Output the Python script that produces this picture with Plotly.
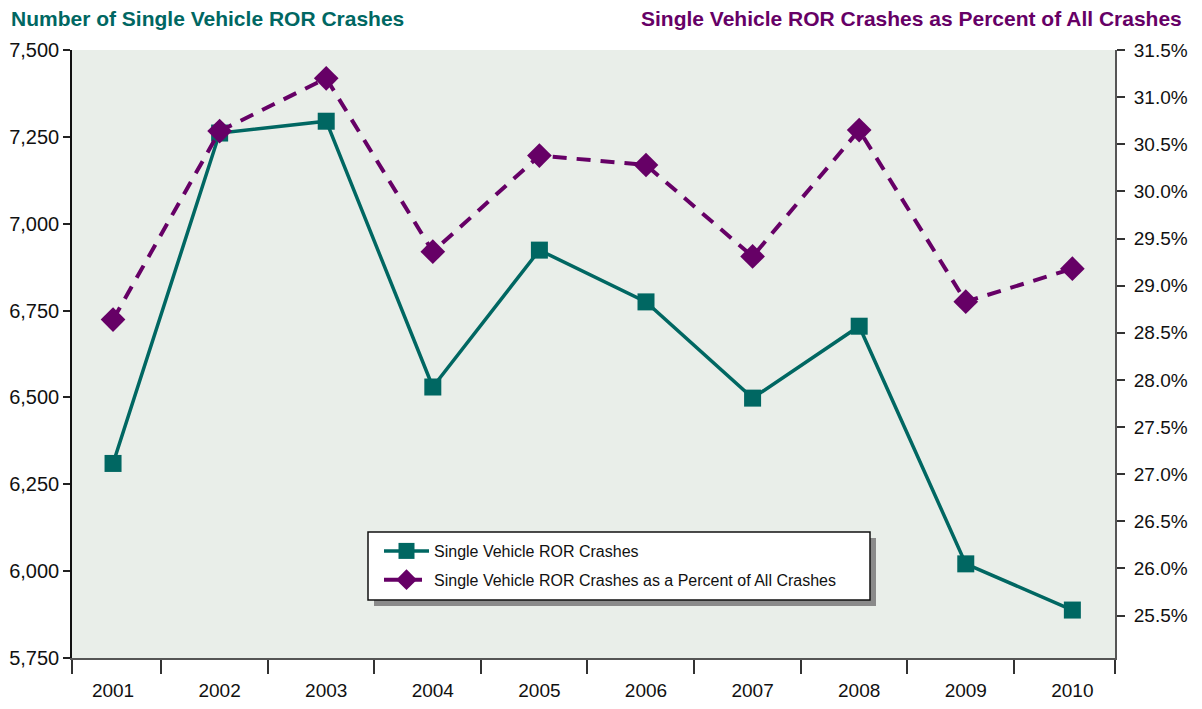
import plotly.graph_objects as go

years = [2001, 2002, 2003, 2004, 2005, 2006, 2007, 2008, 2009, 2010]
year_labels = [str(y) for y in years]
ror_crashes = [6310, 7261, 7295, 6530, 6924, 6775, 6498, 6705, 6021, 5888]
ror_percent = [28.64, 30.64, 31.20, 29.36, 30.38, 30.28, 29.31, 30.65, 28.83, 29.18]
left_ticks = [5750, 6000, 6250, 6500, 6750, 7000, 7250, 7500]
right_ticks = [25.5, 26.0, 26.5, 27.0, 27.5, 28.0, 28.5, 29.0, 29.5, 30.0, 30.5, 31.0, 31.5]

TEAL = "#006762"
PURPLE = "#660066"
FONT = "Liberation Sans, Arial, sans-serif"

OFF = 8  # page body margin
W, H = 1202 - 2 * OFF, 709 - 2 * OFF
PLOT_L, PLOT_R, PLOT_T, PLOT_B = 72, 1115, 50, 658  # in screen pixels
L = PLOT_L - OFF
T = PLOT_T - OFF
R = W - (PLOT_R - OFF)
B = H - (PLOT_B - OFF)
PW = PLOT_R - PLOT_L
PH = PLOT_B - PLOT_T


def px_x(p):
    return (p - PLOT_L) / PW


def px_y(p):
    return (PLOT_B - p) / PH


fig = go.Figure()
fig.add_trace(go.Scatter(
    x=years, y=ror_crashes, name="Single Vehicle ROR Crashes",
    mode="lines+markers", yaxis="y", legendgroup="a",
    line=dict(color=TEAL, width=3.5),
    marker=dict(symbol="square", size=17, color=TEAL),
))
fig.add_trace(go.Scatter(
    x=years, y=ror_percent, name="Single Vehicle ROR Crashes as a Percent of All Crashes",
    mode="lines+markers", yaxis="y2", legendgroup="b",
    line=dict(color=PURPLE, width=4, dash="14px,10px"),
    marker=dict(symbol="diamond", size=19, color=PURPLE),
))

xmin, xmax = 2000.615, 2010.40
fig.update_layout(
    width=W, height=H,
    margin=dict(l=L, r=R, t=T, b=B, pad=0, autoexpand=False),
    paper_bgcolor="white",
    plot_bgcolor="#E9EEE9",
    font=dict(family=FONT, color="#111111"),
    showlegend=True,
    legend=dict(
        x=px_x(379), y=px_y(534), xanchor="left", yanchor="top",
        bgcolor="rgba(0,0,0,0)", borderwidth=0,
        font=dict(size=16, family=FONT, color="#111111"),
        tracegroupgap=5, itemwidth=45,
    ),
    xaxis=dict(
        range=[xmin, xmax], tickmode="array", tickvals=years, ticktext=year_labels,
        ticks="", showgrid=False, zeroline=False, automargin=False,
        showline=True, linecolor="#555555", linewidth=2,
        tickfont=dict(size=19, family=FONT, color="#111111"),
        ticklabelstandoff=14,
        minor=dict(ticks="outside", ticklen=14, tickwidth=1.5, tickcolor="#333333",
                   tickmode="array",
                   tickvals=[xmin] + [y + 0.45 for y in years[:-1]] + [xmax]),
    ),
    yaxis=dict(
        range=[5750, 7500], tickmode="array", tickvals=left_ticks, tickformat=",",
        ticks="outside", ticklen=7, tickwidth=1.5, tickcolor="#222222",
        showgrid=False, zeroline=False, automargin=False,
        showline=True, linecolor="#111111", linewidth=1.5,
        tickfont=dict(size=20, family=FONT, color="#111111"),
        ticklabelstandoff=0,
    ),
    yaxis2=dict(
        range=[25.05, 31.5], overlaying="y", side="right",
        tickmode="array", tickvals=right_ticks,
        ticktext=[f"{v:.1f}%" for v in right_ticks],
        ticks="outside", ticklen=8, tickwidth=1.5, tickcolor="#333333",
        showgrid=False, zeroline=False, automargin=False,
        showline=True, linecolor="#555555", linewidth=2,
        tickfont=dict(size=19, family=FONT, color="#111111"),
        ticklabelstandoff=5,
    ),
)

# legend frame with drop shadow
fig.add_shape(type="rect", xref="paper", yref="paper",
              x0=px_x(374), x1=px_x(876), y0=px_y(606), y1=px_y(538),
              line=dict(width=0), fillcolor="#8a8a8a", layer="above")
fig.add_shape(type="rect", xref="paper", yref="paper",
              x0=px_x(368), x1=px_x(870), y0=px_y(600), y1=px_y(532),
              line=dict(width=1.5, color="#111111"), fillcolor="white", layer="above")

fig.add_annotation(text="<b>Number of Single Vehicle ROR Crashes</b>",
                   xref="paper", yref="paper", x=px_x(9), y=px_y(18),
                   xanchor="left", yanchor="middle", showarrow=False,
                   font=dict(size=21, family=FONT, color=TEAL))
fig.add_annotation(text="<b>Single Vehicle ROR Crashes as Percent of All Crashes</b>",
                   xref="paper", yref="paper", x=px_x(1184), y=px_y(18),
                   xanchor="right", yanchor="middle", showarrow=False,
                   font=dict(size=21, family=FONT, color=PURPLE))

fig.write_html("out.html")
